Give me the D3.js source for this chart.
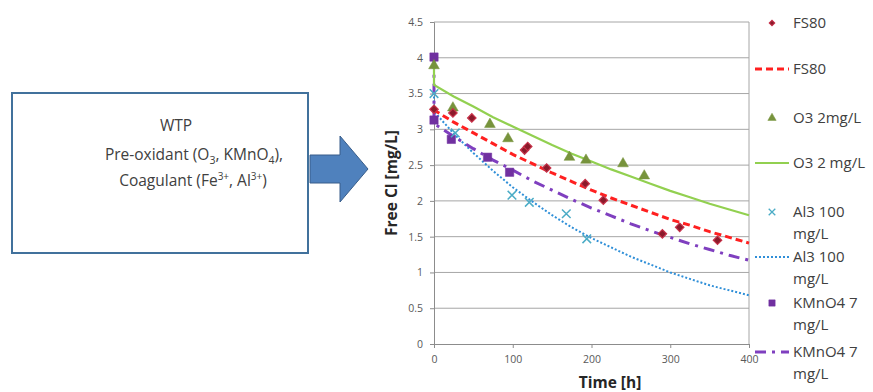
<!DOCTYPE html>
<html><head><meta charset="utf-8">
<script src="https://cdn.jsdelivr.net/npm/d3@7"></script>
<style>body{margin:0;background:#fff}svg{display:block}</style>
</head><body>
<svg id="c" width="873" height="392"></svg>
<script>
// ---- data ----
const xTicks = [0, 100, 200, 300, 400];
const yTicks = [0, 0.5, 1, 1.5, 2, 2.5, 3, 3.5, 4, 4.5];

const fs80T = [0, 24, 48, 115, 119, 143, 192, 215, 290, 312, 360];
const fs80V = [3.28, 3.23, 3.16, 2.71, 2.76, 2.46, 2.24, 2.01, 1.54, 1.63, 1.45];

const o3T = [0, 24, 71, 94, 172, 193, 240, 267];
const o3V = [3.89, 3.30, 3.07, 2.87, 2.61, 2.57, 2.52, 2.35];

const al3T = [0, 27, 99, 121, 168, 194];
const al3V = [3.50, 2.95, 2.08, 1.98, 1.82, 1.47];

const kmT = [0, 0, 22, 68, 96];
const kmV = [4.01, 3.13, 2.86, 2.61, 2.40];

// fitted curves
const fitT   = [0, 0, 25, 50, 75, 100, 125, 150, 175, 200, 225, 250, 275, 300, 325, 350, 375, 400];
const fs80Fit = [3.28, 3.27, 3.10, 2.95, 2.80, 2.65, 2.52, 2.39, 2.27, 2.15, 2.04, 1.94, 1.84, 1.74, 1.66, 1.57, 1.49, 1.41];
const o3Fit   = [3.90, 3.62, 3.46, 3.32, 3.17, 3.04, 2.91, 2.78, 2.66, 2.55, 2.44, 2.34, 2.24, 2.14, 2.05, 1.96, 1.88, 1.80];
const al3Fit  = [3.85, 3.25, 2.94, 2.67, 2.42, 2.19, 1.99, 1.80, 1.63, 1.48, 1.35, 1.22, 1.11, 1.00, 0.91, 0.82, 0.75, 0.68];
const kmFit   = [4.00, 3.08, 2.90, 2.73, 2.57, 2.43, 2.28, 2.15, 2.02, 1.90, 1.79, 1.68, 1.58, 1.49, 1.40, 1.32, 1.24, 1.17];

// ---- drawing ----
const svg = d3.select("#c");
const FONT = "'Open Sans', sans-serif";
const TXT = "#404040";

// left box
svg.append("rect").attr("x", 12).attr("y", 93).attr("width", 296).attr("height", 160)
  .attr("fill", "#fff").attr("stroke", "#41719c").attr("stroke-width", 2);
const bt = svg.append("g").attr("font-family", FONT).attr("font-size", 15.5).attr("fill", TXT).attr("text-anchor", "middle");
bt.append("text").attr("x", 176).attr("y", 131).text("WTP");
const l2 = bt.append("text").attr("x", 194).attr("y", 160);
l2.append("tspan").text("Pre-oxidant (O");
l2.append("tspan").attr("font-size", 10.5).attr("dy", 4).text("3");
l2.append("tspan").attr("dy", -4).text(", KMnO");
l2.append("tspan").attr("font-size", 10.5).attr("dy", 4).text("4");
l2.append("tspan").attr("dy", -4).text("),");
const l3 = bt.append("text").attr("x", 193).attr("y", 186);
l3.append("tspan").text("Coagulant (Fe");
l3.append("tspan").attr("font-size", 10).attr("dy", -6).text("3+");
l3.append("tspan").attr("dy", 6).text(", Al");
l3.append("tspan").attr("font-size", 10).attr("dy", -6).text("3+");
l3.append("tspan").attr("dy", 6).text(")");

// arrow
svg.append("path")
  .attr("d", "M310,155 L340,155 L340,136 L368,169 L340,202 L340,183 L310,183 Z")
  .attr("fill", "#4f81bd").attr("stroke", "#385d8a").attr("stroke-width", 1);

// chart
const L = 434, R = 749, T = 22, B = 344;
const x = d3.scaleLinear().domain([0, 400]).range([L, R]);
const y = d3.scaleLinear().domain([0, 4.5]).range([B, T]);

const grid = svg.append("g");
grid.selectAll("line.h").data(yTicks.slice(1)).join("line")
  .attr("x1", L).attr("x2", R).attr("y1", d => y(d)).attr("y2", d => y(d))
  .attr("stroke", "#a6a6a6").attr("stroke-width", 1);
grid.append("line").attr("x1", R).attr("x2", R).attr("y1", T).attr("y2", B)
  .attr("stroke", "#a6a6a6");

const yAxis = svg.append("g").attr("transform", `translate(${L},0)`)
  .call(d3.axisLeft(y).tickValues(yTicks).tickSize(4).tickPadding(7).tickFormat(d3.format("")));
const xAxis = svg.append("g").attr("transform", `translate(0,${B})`)
  .call(d3.axisBottom(x).tickValues(xTicks).tickSize(4).tickPadding(8));
[yAxis, xAxis].forEach(a => {
  a.select(".domain").attr("stroke", "#8c8c8c");
  a.selectAll(".tick line").attr("stroke", "#8c8c8c");
  a.selectAll(".tick text").attr("font-family", FONT).attr("font-size", 10.5).attr("fill", "#595959");
});

svg.append("text").attr("x", 610).attr("y", 388).attr("text-anchor", "middle")
  .attr("font-family", FONT).attr("font-weight", "bold").attr("font-size", 15.5).attr("fill", "#262626")
  .text("Time [h]");
svg.append("text").attr("transform", "translate(397,183) rotate(-90)").attr("text-anchor", "middle")
  .attr("font-family", FONT).attr("font-weight", "bold").attr("font-size", 15.5).attr("fill", "#262626")
  .text("Free Cl [mg/L]");

// styles
const S = {
  fs80P: "#8b1a2b", fs80S: "#c8324a", fs80L: "#ff2020",
  o3P: "#77933c", o3L: "#92d050",
  al3P: "#4bacc6", al3L: "#2f8fd8",
  kmP: "#7030a0", kmL: "#7f3fbf"
};
const lineGen = d3.line().x(d => x(d[0])).y(d => y(d[1]));
const zip = (a, b) => a.map((v, i) => [v, b[i]]);
const plot = svg.append("g");

function drawLine(vals, color, width, dash) {
  plot.append("path").datum(zip(fitT, vals)).attr("d", lineGen)
    .attr("fill", "none").attr("stroke", color).attr("stroke-width", width)
    .attr("stroke-dasharray", dash || null);
}
drawLine(al3Fit, S.al3L, 2, "2,2");
drawLine(kmFit, S.kmL, 3, "11,6,3,6");
drawLine(fs80Fit, S.fs80L, 3, "7,4");
drawLine(o3Fit, S.o3L, 2.2, null);

const shapes = {
  diamond: {type: d3.symbolSquare, rot: 45},
  triangle: {type: d3.symbolTriangle, rot: 0},
  square: {type: d3.symbolSquare, rot: 0},
  cross: {type: d3.symbolTimes, rot: 0}
};
function drawPts(ts, vs, shape, fill, stroke, size, sw) {
  const sh = shapes[shape];
  plot.append("g").selectAll("path").data(zip(ts, vs)).join("path")
    .attr("transform", d => `translate(${x(d[0])},${y(d[1])}) rotate(${sh.rot})`)
    .attr("d", d3.symbol().type(sh.type).size(size))
    .attr("fill", fill).attr("stroke", stroke).attr("stroke-width", sw);
}
drawPts(kmT, kmV, "square", S.kmP, S.kmP, 70, 0.5);
drawPts(o3T, o3V, "triangle", S.o3P, S.o3P, 50, 0.5);
drawPts(al3T, al3V, "cross", "none", S.al3P, 50, 1.5);
drawPts(fs80T, fs80V, "diamond", S.fs80P, S.fs80S, 36, 1.2);

// legend
const legend = [
  {type: "pt", shape: "diamond", fill: S.fs80P, stroke: S.fs80S, size: 16, sw: 1, lines: ["FS80"], y: 23},
  {type: "ln", color: S.fs80L, w: 3, dash: "7,4", lines: ["FS80"], y: 69},
  {type: "pt", shape: "triangle", fill: S.o3P, stroke: S.o3P, size: 30, sw: 0.5, lines: ["O3 2mg/L"], y: 118},
  {type: "ln", color: S.o3L, w: 2.2, dash: null, lines: ["O3 2 mg/L"], y: 163},
  {type: "pt", shape: "cross", fill: "none", stroke: S.al3P, size: 30, sw: 1.3, lines: ["Al3 100", "mg/L"], y: 212},
  {type: "ln", color: S.al3L, w: 2, dash: "2,2", lines: ["Al3 100", "mg/L"], y: 257},
  {type: "pt", shape: "square", fill: S.kmP, stroke: S.kmP, size: 40, sw: 0.5, lines: ["KMnO4 7", "mg/L"], y: 303},
  {type: "ln", color: S.kmL, w: 3, dash: "11,6,3,6", lines: ["KMnO4 7", "mg/L"], y: 352}
];
const lg = svg.append("g");
legend.forEach(it => {
  if (it.type === "pt") {
    const sh = shapes[it.shape];
    lg.append("path").attr("transform", `translate(772,${it.y}) rotate(${sh.rot})`)
      .attr("d", d3.symbol().type(sh.type).size(it.size))
      .attr("fill", it.fill).attr("stroke", it.stroke).attr("stroke-width", it.sw);
  } else {
    lg.append("line").attr("x1", 755).attr("x2", 789).attr("y1", it.y).attr("y2", it.y)
      .attr("stroke", it.color).attr("stroke-width", it.w).attr("stroke-dasharray", it.dash);
  }
  it.lines.forEach((s, i) => {
    lg.append("text").attr("x", 793).attr("y", it.y + 5 + i * 22)
      .attr("font-family", FONT).attr("font-size", 15).attr("fill", TXT).text(s);
  });
});
</script>
</body></html>
